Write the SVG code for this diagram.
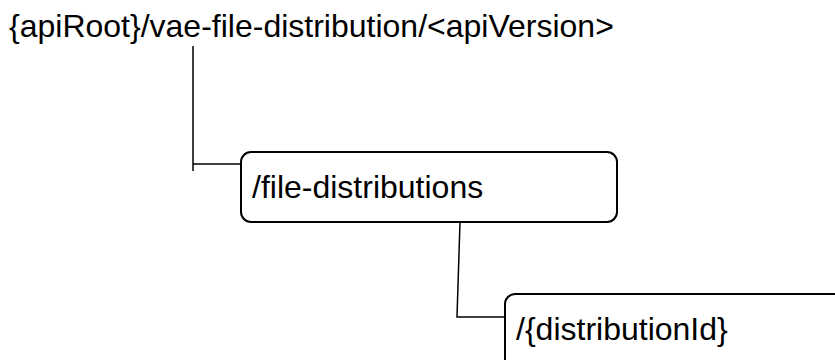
<svg xmlns="http://www.w3.org/2000/svg" width="835" height="360" viewBox="0 0 835 360">
<style>
text{font-family:"Liberation Sans",Arial,sans-serif;font-size:32px;fill:#000}
.box{fill:#fff;stroke:#000;stroke-width:2}
.conn{fill:none;stroke:#000;stroke-width:1.5}
</style>
<rect width="835" height="360" fill="#fff"/>
<g id="connectors">
<path class="conn" d="M193,46 V171 M193,164 H241"/>
<path class="conn" d="M460,222 L457,317 H505"/>
</g>
<g id="root">
<text x="9" y="37">{apiRoot}/vae-file-distribution/&lt;apiVersion&gt;</text>
</g>
<g id="file-distributions">
<rect class="box" x="241" y="152" width="376" height="70" rx="10"/>
<text x="252" y="198">/file-distributions</text>
</g>
<g id="distributionId">
<rect class="box" x="505" y="294" width="360" height="90" rx="10"/>
<text x="516" y="340">/{distributionId}</text>
</g>
</svg>
